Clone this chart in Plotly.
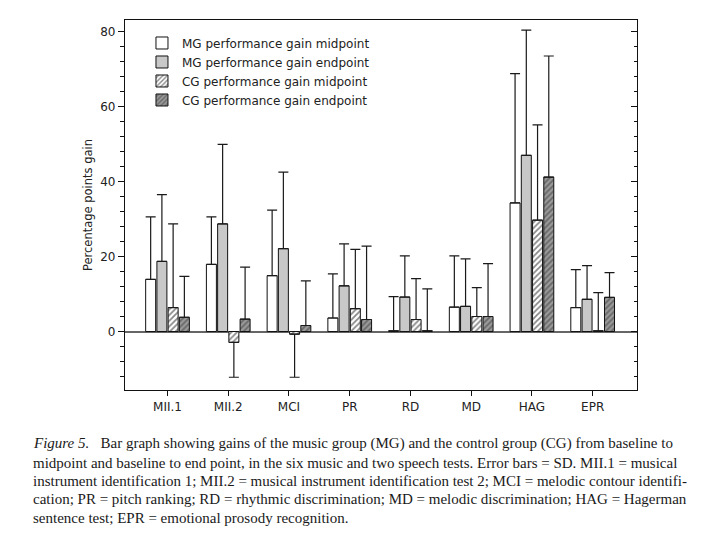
import plotly.graph_objects as go

categories = ["MII.1", "MII.2", "MCI", "PR", "RD", "MD", "HAG", "EPR"]

mg_mid = [13.9, 17.9, 14.9, 3.6, 0.2, 6.5, 34.3, 6.4]
mg_mid_sd = [16.7, 12.7, 17.5, 11.8, 9.1, 13.7, 34.5, 10.1]

mg_end = [18.7, 28.7, 22.1, 12.2, 9.2, 6.7, 47.0, 8.6]
mg_end_sd = [17.8, 21.2, 20.4, 11.2, 11.0, 12.7, 33.4, 9.0]

cg_mid = [6.4, -2.9, -0.7, 6.1, 3.2, 4.0, 29.7, 0.2]
cg_mid_sd = [22.3, 9.3, 11.5, 15.8, 10.9, 7.7, 25.4, 10.2]

cg_end = [3.8, 3.3, 1.6, 3.2, 0.2, 4.0, 41.2, 9.1]
cg_end_sd = [10.9, 13.9, 11.9, 19.6, 11.2, 14.1, 32.3, 6.6]

series_names = [
    "MG performance gain midpoint",
    "MG performance gain endpoint",
    "CG performance gain midpoint",
    "CG performance gain endpoint",
]

caption_lines = [
    "<i>Figure 5.</i>   Bar graph showing gains of the music group (MG) and the control group (CG) from baseline to",
    "midpoint and baseline to end point, in the six music and two speech tests. Error bars = SD. MII.1 = musical",
    "instrument identification 1; MII.2 = musical instrument identification test 2; MCI = melodic contour identifi-",
    "cation; PR = pitch ranking; RD = rhythmic discrimination; MD = melodic discrimination; HAG = Hagerman",
    "sentence test; EPR = emotional prosody recognition.",
]

W, H = 720, 540
OFF = 8  # page body margin offset of the rendered figure
# target on-screen plot box
SL, SR, ST, SB = 125, 637.5, 19.5, 390
ML = SL - OFF
MT = ST - OFF
MR = W - (SR - OFF)
MB = H - (SB - OFF)
PW = W - ML - MR
PH = H - MT - MB


def px_to_paper_x(sx):
    return (sx - OFF - ML) / PW


def px_to_paper_y(sy):
    return (H - MB - (sy - OFF)) / PH


def err(vals, sds):
    up = [s if v >= 0 else 0 for v, s in zip(vals, sds)]
    dn = [s if v < 0 else 0 for v, s in zip(vals, sds)]
    return dict(type="data", symmetric=False, array=up, arrayminus=dn,
                color="#1a1a1a", thickness=1.2, width=5)


styles = [
    dict(color="white"),
    dict(color="#c8c8c8"),
    dict(color="white", pattern=dict(shape="/", fgcolor="#111111", bgcolor="white",
                                     size=4, solidity=0.45, fillmode="overlay")),
    dict(color="#9a9a9a", pattern=dict(shape="/", fgcolor="#333333", bgcolor="#9a9a9a",
                                       size=4, solidity=0.45, fillmode="overlay")),
]

data_sets = [(mg_mid, mg_mid_sd), (mg_end, mg_end_sd), (cg_mid, cg_mid_sd), (cg_end, cg_end_sd)]

fig = go.Figure()
for name, (vals, sds), st in zip(series_names, data_sets, styles):
    marker = dict(line=dict(color="#111111", width=1), **st)
    fig.add_trace(go.Bar(x=categories, y=vals, name=name, marker=marker,
                         error_y=err(vals, sds)))

# invisible trace to host the right-side inside ticks
fig.add_trace(go.Scatter(x=[categories[0]], y=[0], yaxis="y2", mode="markers",
                         marker=dict(opacity=0), showlegend=False, hoverinfo="skip"))

font_family = "DejaVu Sans"
y_range = [-15.6, 83.1]

fig.update_layout(
    template="none",
    width=W, height=H,
    margin=dict(l=ML, r=MR, t=MT, b=MB, pad=0, autoexpand=False),
    paper_bgcolor="white", plot_bgcolor="white",
    barmode="group", bargap=0.26, bargroupgap=0.11,
    font=dict(family=font_family, size=12, color="#222222"),
    showlegend=True,
    legend=dict(x=px_to_paper_x(142), y=px_to_paper_y(28), xanchor="left", yanchor="top",
                bgcolor="rgba(0,0,0,0)", font=dict(size=12, family=font_family),
                itemwidth=30, tracegroupgap=0),
    xaxis=dict(type="category", range=[-0.7, 7.73], showline=True, linecolor="#111111",
               linewidth=1.3, mirror=True, ticks="outside", ticklen=5, tickcolor="#111111",
               showgrid=False, tickfont=dict(size=12), zeroline=False, automargin=False),
    yaxis=dict(range=y_range, autorange=False, dtick=20, tick0=0, showline=True,
               linecolor="#111111", automargin=False,
               linewidth=1.3, mirror=True, ticks="outside", ticklen=6, tickcolor="#111111",
               showgrid=False, zeroline=True, zerolinecolor="#666666", zerolinewidth=1.5,
               tickfont=dict(size=12),
               minor=dict(dtick=4, tick0=0, ticks="outside", ticklen=3.5, tickcolor="#111111"),
               title=dict(text="Percentage points gain", font=dict(size=11.5), standoff=5)),
    yaxis2=dict(overlaying="y", side="right", anchor="x", range=y_range, autorange=False,
                dtick=20, tick0=0, ticks="inside", ticklen=6, tickcolor="#111111",
                showticklabels=False, showline=False, showgrid=False, zeroline=False,
                automargin=False,
                minor=dict(dtick=4, tick0=0, ticks="inside", ticklen=3.5, tickcolor="#111111")),
)

line_y = [444, 462.7, 481, 499.3, 517.7]
for txt, ly in zip(caption_lines, line_y):
    fig.add_annotation(text=txt, xref="paper", yref="paper", x=px_to_paper_x(31),
                       y=px_to_paper_y(ly), xanchor="left", yanchor="middle", showarrow=False,
                       font=dict(family="Liberation Serif", size=15, color="#1a1a1a"))

fig.write_html("out.html")
